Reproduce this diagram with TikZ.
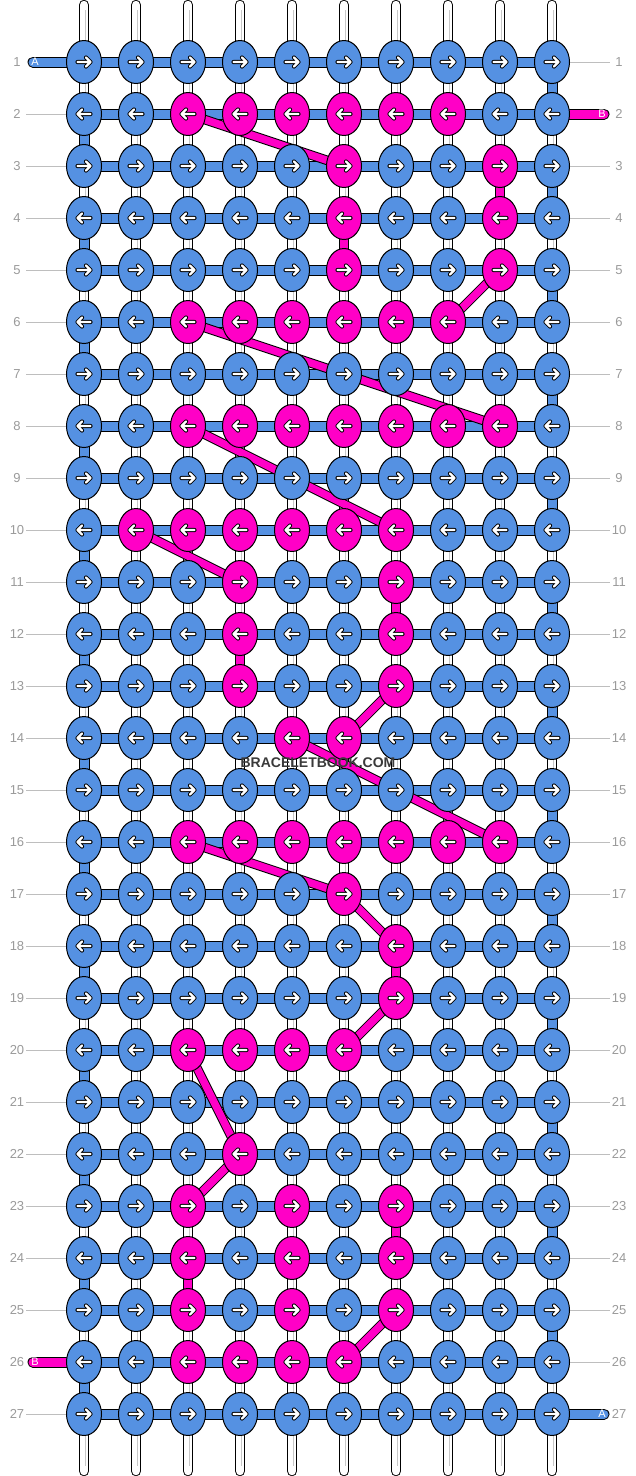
\documentclass[tikz,border=0pt]{standalone}
\usepackage{fontspec}
\setmainfont{Liberation Sans}
\usepackage{xcolor}
\usetikzlibrary{shapes.geometric}
\definecolor{kb}{HTML}{5591E2}
\definecolor{kp}{HTML}{FF00C6}
\definecolor{numgray}{HTML}{9A9A9A}
\definecolor{guidegray}{HTML}{BEBEBE}
\definecolor{markgray}{HTML}{3A3A3A}
\pgfdeclarelayer{strings}
\pgfsetlayers{strings,main}

\begin{document}
\begin{tikzpicture}[x=1pt, y=-1pt,
        knot/.style={ellipse, draw=black, line width=1, minimum width=35, minimum height=43, inner sep=0},
        bar/.style={draw=black, line width=1, double=#1, double distance=9},
        bar/.default=kb,
        vstring/.style={draw=black, line width=1, double=white, double distance=8.5, line cap=round},
        vcore/.style={draw=black!22, line width=1},
        knotarrow/.style={draw=black, line width=1, double=white, double distance=2.2, line cap=round, line join=round},
        rownum/.style={text=numgray, font=\fontsize{13}{13}\selectfont, minimum width=18, inner sep=0},
        guide/.style={draw=guidegray, line width=1},
        taillabel/.style={text=white, font=\fontsize{11}{11}\selectfont, inner sep=0},
        wmark/.style={text=markgray, font=\bfseries\fontsize{14}{14}\selectfont, inner sep=0}]
    \useasboundingbox (0,0) rectangle (636,1476);

    % Knots, one row of colours per line
    \foreach \r/\cols in {
        1/{b,b,b,b,b,b,b,b,b,b},
        2/{b,b,p,p,p,p,p,p,b,b},
        3/{b,b,b,b,b,p,b,b,p,b},
        4/{b,b,b,b,b,p,b,b,p,b},
        5/{b,b,b,b,b,p,b,b,p,b},
        6/{b,b,p,p,p,p,p,p,b,b},
        7/{b,b,b,b,b,b,b,b,b,b},
        8/{b,b,p,p,p,p,p,p,p,b},
        9/{b,b,b,b,b,b,b,b,b,b},
        10/{b,p,p,p,p,p,p,b,b,b},
        11/{b,b,b,p,b,b,p,b,b,b},
        12/{b,b,b,p,b,b,p,b,b,b},
        13/{b,b,b,p,b,b,p,b,b,b},
        14/{b,b,b,b,p,p,b,b,b,b},
        15/{b,b,b,b,b,b,b,b,b,b},
        16/{b,b,p,p,p,p,p,p,p,b},
        17/{b,b,b,b,b,p,b,b,b,b},
        18/{b,b,b,b,b,b,p,b,b,b},
        19/{b,b,b,b,b,b,p,b,b,b},
        20/{b,b,p,p,p,p,b,b,b,b},
        21/{b,b,b,b,b,b,b,b,b,b},
        22/{b,b,b,p,b,b,b,b,b,b},
        23/{b,b,p,b,p,b,p,b,b,b},
        24/{b,b,p,b,p,b,p,b,b,b},
        25/{b,b,p,b,p,b,p,b,b,b},
        26/{b,b,p,p,p,p,b,b,b,b},
        27/{b,b,b,b,b,b,b,b,b,b}}{
        \pgfmathsetmacro\dir{2*mod(\r,2)-1}
        \foreach \k [count=\c] in \cols {
            \node[knot, fill=k\k] (k-\r-\c) at ({84+52*(\c-1)}, {62+52*(\r-1)}) {};
            \draw[knotarrow, shift={(k-\r-\c.center)}, xscale=\dir]
                (-6.5,0) -- (6.5,0) (2,-4.5) -- (6.5,0) -- (2,4.5);
        }
    }

    % Strings behind the knots
    \begin{pgfonlayer}{strings}
        \foreach \c in {1,...,10} {
            \coordinate (top-\c) at ({84+52*(\c-1)}, 5);
            \coordinate (bot-\c) at ({84+52*(\c-1)}, 1471);
            \draw[vstring] (top-\c) -- (bot-\c);
            \draw[vcore] ([shift={(1,5)}]top-\c) -- ([shift={(1,-5)}]bot-\c);
        }
        \foreach \r in {1,...,27}
            \draw[bar] (k-\r-1.center) -- (k-\r-10.center);
        % turns at the edges
        \foreach \r [evaluate=\r as \n using int(\r+1)] in {2,4,...,26}
            \draw[bar] (k-\r-1.center) -- (k-\n-1.center);
        \foreach \r [evaluate=\r as \n using int(\r+1)] in {1,3,...,25}
            \draw[bar] (k-\r-10.center) -- (k-\n-10.center);
        % loose ends
        \coordinate (end-a1) at (33,62);
        \coordinate (end-b2) at (604,114);
        \coordinate (end-b26) at (33,1362);
        \coordinate (end-a27) at (604,1414);
        \draw[bar, line cap=round] (end-a1) -- (k-1-1.center);
        \draw[bar=kp, line cap=round] (k-2-10.center) -- (end-b2);
        \draw[bar=kp, line cap=round] (end-b26) -- (k-26-1.center);
        \draw[bar, line cap=round] (k-27-10.center) -- (end-a27);
        % path of string B
        \foreach \a/\b in {2-3/3-6, 3-9/4-9, 4-6/5-6, 5-9/6-8, 6-3/8-9, 8-3/10-7,
                10-2/11-4, 11-7/12-7, 12-4/13-4, 13-7/14-6, 14-5/16-9, 16-3/17-6,
                17-6/18-7, 18-7/19-7, 19-7/20-6, 20-3/22-4, 22-4/23-3, 23-7/24-7,
                24-3/25-3, 25-7/26-6}
            \draw[bar=kp, double distance=7.5] (k-\a.center) -- (k-\b.center);
    \end{pgfonlayer}

    % Letters on the loose ends
    \node[taillabel] (lab-a1) at (35,62) {A};
    \node[taillabel] (lab-b2) at (602,114) {B};
    \node[taillabel] (lab-b26) at (35,1362) {B};
    \node[taillabel] (lab-a27) at (602,1414) {A};

    % Row numbers
    \foreach \r in {1,...,27} {
        \node[rownum] (nl-\r) at (17, {62+52*(\r-1)}) {\r};
        \node[rownum] (nr-\r) at (619, {62+52*(\r-1)}) {\r};
    }
    \foreach \r in {2,...,25,27}
        \draw[guide] (nl-\r) -- (k-\r-1);
    \foreach \r in {1,3,4,...,26}
        \draw[guide] (k-\r-10) -- (nr-\r);

    \node[wmark] (site) at (318,763) {BRACELETBOOK.COM};
\end{tikzpicture}
\end{document}
